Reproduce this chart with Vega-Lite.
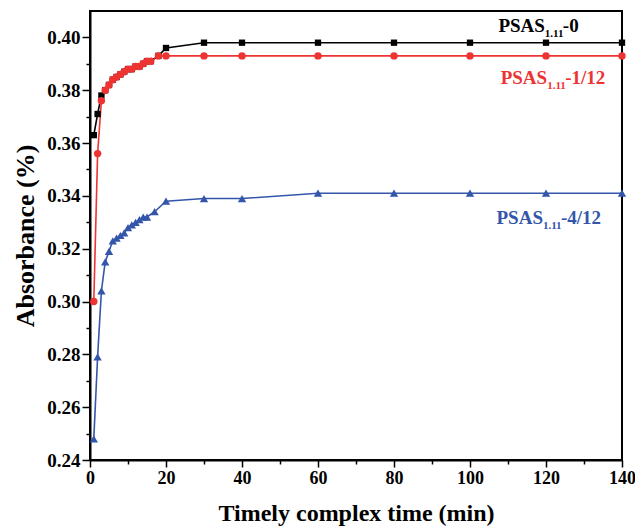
{
  "$schema": "https://vega.github.io/schema/vega-lite/v6.json",
  "width": 532,
  "height": 449,
  "autosize": "none",
  "padding": {"left": 90, "top": 11, "right": 13, "bottom": 67},
  "background": "white",
  "config": {
    "view": {"stroke": "black", "strokeWidth": 2},
    "font": "Liberation Serif",
    "axis": {
      "domainColor": "black", "domainWidth": 2, "tickColor": "black", "tickWidth": 1.5,
      "labelFont": "Liberation Serif", "labelFontWeight": "bold", "labelFontSize": 18, "labelColor": "black",
      "titleFont": "Liberation Serif", "titleFontWeight": "bold", "titleFontSize": 24, "titleColor": "black",
      "grid": false
    }
  },
  "datasets": {
    "series": [
      {"series": "0", "time": 1, "absorbance": 0.363},
      {"series": "0", "time": 2, "absorbance": 0.371},
      {"series": "0", "time": 3, "absorbance": 0.378},
      {"series": "0", "time": 4, "absorbance": 0.380},
      {"series": "0", "time": 5, "absorbance": 0.382},
      {"series": "0", "time": 6, "absorbance": 0.384},
      {"series": "0", "time": 7, "absorbance": 0.385},
      {"series": "0", "time": 8, "absorbance": 0.386},
      {"series": "0", "time": 9, "absorbance": 0.387},
      {"series": "0", "time": 10, "absorbance": 0.388},
      {"series": "0", "time": 11, "absorbance": 0.388},
      {"series": "0", "time": 12, "absorbance": 0.389},
      {"series": "0", "time": 13, "absorbance": 0.389},
      {"series": "0", "time": 14, "absorbance": 0.390},
      {"series": "0", "time": 15, "absorbance": 0.391},
      {"series": "0", "time": 16, "absorbance": 0.391},
      {"series": "0", "time": 18, "absorbance": 0.393},
      {"series": "0", "time": 20, "absorbance": 0.396},
      {"series": "0", "time": 30, "absorbance": 0.398},
      {"series": "0", "time": 40, "absorbance": 0.398},
      {"series": "0", "time": 60, "absorbance": 0.398},
      {"series": "0", "time": 80, "absorbance": 0.398},
      {"series": "0", "time": 100, "absorbance": 0.398},
      {"series": "0", "time": 120, "absorbance": 0.398},
      {"series": "0", "time": 140, "absorbance": 0.398},
      {"series": "1/12", "time": 1, "absorbance": 0.300},
      {"series": "1/12", "time": 2, "absorbance": 0.356},
      {"series": "1/12", "time": 3, "absorbance": 0.376},
      {"series": "1/12", "time": 4, "absorbance": 0.380},
      {"series": "1/12", "time": 5, "absorbance": 0.382},
      {"series": "1/12", "time": 6, "absorbance": 0.384},
      {"series": "1/12", "time": 7, "absorbance": 0.385},
      {"series": "1/12", "time": 8, "absorbance": 0.386},
      {"series": "1/12", "time": 9, "absorbance": 0.387},
      {"series": "1/12", "time": 10, "absorbance": 0.388},
      {"series": "1/12", "time": 11, "absorbance": 0.388},
      {"series": "1/12", "time": 12, "absorbance": 0.389},
      {"series": "1/12", "time": 13, "absorbance": 0.389},
      {"series": "1/12", "time": 14, "absorbance": 0.390},
      {"series": "1/12", "time": 15, "absorbance": 0.391},
      {"series": "1/12", "time": 16, "absorbance": 0.391},
      {"series": "1/12", "time": 18, "absorbance": 0.393},
      {"series": "1/12", "time": 20, "absorbance": 0.393},
      {"series": "1/12", "time": 30, "absorbance": 0.393},
      {"series": "1/12", "time": 40, "absorbance": 0.393},
      {"series": "1/12", "time": 60, "absorbance": 0.393},
      {"series": "1/12", "time": 80, "absorbance": 0.393},
      {"series": "1/12", "time": 100, "absorbance": 0.393},
      {"series": "1/12", "time": 120, "absorbance": 0.393},
      {"series": "1/12", "time": 140, "absorbance": 0.393},
      {"series": "4/12", "time": 1, "absorbance": 0.248},
      {"series": "4/12", "time": 2, "absorbance": 0.279},
      {"series": "4/12", "time": 3, "absorbance": 0.304},
      {"series": "4/12", "time": 4, "absorbance": 0.315},
      {"series": "4/12", "time": 5, "absorbance": 0.319},
      {"series": "4/12", "time": 6, "absorbance": 0.323},
      {"series": "4/12", "time": 7, "absorbance": 0.324},
      {"series": "4/12", "time": 8, "absorbance": 0.325},
      {"series": "4/12", "time": 9, "absorbance": 0.326},
      {"series": "4/12", "time": 10, "absorbance": 0.328},
      {"series": "4/12", "time": 11, "absorbance": 0.329},
      {"series": "4/12", "time": 12, "absorbance": 0.330},
      {"series": "4/12", "time": 13, "absorbance": 0.331},
      {"series": "4/12", "time": 14, "absorbance": 0.332},
      {"series": "4/12", "time": 15, "absorbance": 0.332},
      {"series": "4/12", "time": 17, "absorbance": 0.334},
      {"series": "4/12", "time": 20, "absorbance": 0.338},
      {"series": "4/12", "time": 30, "absorbance": 0.339},
      {"series": "4/12", "time": 40, "absorbance": 0.339},
      {"series": "4/12", "time": 60, "absorbance": 0.341},
      {"series": "4/12", "time": 80, "absorbance": 0.341},
      {"series": "4/12", "time": 100, "absorbance": 0.341},
      {"series": "4/12", "time": 120, "absorbance": 0.341},
      {"series": "4/12", "time": 140, "absorbance": 0.341}
    ],
    "labels": [
      {"series": "0", "time": 119.7, "absorbance": 0.4042, "main": "PSAS", "sub": "1.11", "suffix": "-0"},
      {"series": "1/12", "time": 120.3, "absorbance": 0.3848, "main": "PSAS", "sub": "1.11", "suffix": "-1/12"},
      {"series": "4/12", "time": 119.2, "absorbance": 0.3318, "main": "PSAS", "sub": "1.11", "suffix": "-4/12"}
    ]
  },
  "encoding": {
    "x": {
      "field": "time", "type": "quantitative",
      "scale": {"domain": [0, 140], "nice": false, "zero": false},
      "axis": {
        "title": "Timely complex time (min)",
        "values": [0, 10, 20, 30, 40, 50, 60, 70, 80, 90, 100, 110, 120, 130, 140],
        "labelExpr": "datum.value % 20 === 0 ? datum.label : ''",
        "tickSize": {"condition": {"test": "datum.value % 20 === 0", "value": 7}, "value": 4},
        "labelPadding": 2,
        "titlePadding": 14,
        "labelFlush": false
      }
    },
    "y": {
      "field": "absorbance", "type": "quantitative",
      "scale": {"domain": [0.24, 0.41], "nice": false, "zero": false},
      "axis": {
        "title": "Absorbance (%)",
        "titleFontSize": 26,
        "values": [0.24, 0.25, 0.26, 0.27, 0.28, 0.29, 0.30, 0.31, 0.32, 0.33, 0.34, 0.35, 0.36, 0.37, 0.38, 0.39, 0.40],
        "format": ".2f",
        "labelExpr": "round(datum.value * 100) % 2 === 0 ? datum.label : ''",
        "labelFontSize": 19,
        "tickSize": {"condition": {"test": "round(datum.value * 100) % 2 === 0", "value": 8}, "value": 4},
        "labelPadding": 2,
        "titlePadding": 8,
        "labelFlush": false
      }
    },
    "color": {
      "field": "series", "type": "nominal",
      "scale": {"domain": ["0", "1/12", "4/12"], "range": ["#000000", "#ee3333", "#3355aa"]},
      "legend": null
    }
  },
  "layer": [
    {
      "data": {"name": "series"},
      "mark": {"type": "line", "strokeWidth": 1.6}
    },
    {
      "data": {"name": "series"},
      "mark": {"type": "point", "filled": true, "opacity": 1},
      "encoding": {
        "order": {"field": "series", "type": "nominal", "sort": "ascending"},
        "shape": {
          "field": "series", "type": "nominal",
          "scale": {"domain": ["0", "1/12", "4/12"], "range": ["square", "circle", "triangle-up"]},
          "legend": null
        },
        "size": {
          "field": "series", "type": "nominal",
          "scale": {"domain": ["0", "1/12", "4/12"], "range": [40, 70, 80]},
          "legend": null
        }
      }
    },
    {
      "data": {"name": "labels"},
      "mark": {"type": "text", "align": "right", "baseline": "middle", "fontSize": 19, "fontWeight": "bold", "font": "Liberation Serif"},
      "encoding": {"text": {"field": "main"}}
    },
    {
      "data": {"name": "labels"},
      "mark": {"type": "text", "align": "left", "baseline": "middle", "fontSize": 11, "fontWeight": "bold", "font": "Liberation Serif", "dy": 8},
      "encoding": {"text": {"field": "sub"}}
    },
    {
      "data": {"name": "labels"},
      "mark": {"type": "text", "align": "left", "baseline": "middle", "fontSize": 19, "fontWeight": "bold", "font": "Liberation Serif", "dx": 18},
      "encoding": {"text": {"field": "suffix"}}
    }
  ]
}
